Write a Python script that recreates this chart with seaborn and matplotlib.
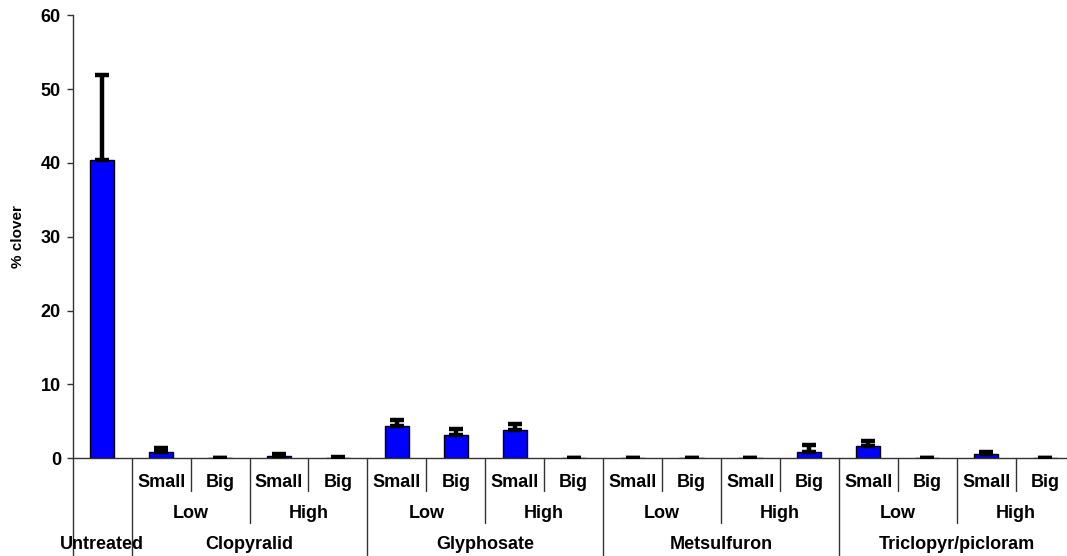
import matplotlib
matplotlib.use("Agg")
import matplotlib.pyplot as plt
import seaborn as sns
import pandas as pd
import numpy as np

# Treatments: untreated control, then herbicide x rate x plant size
herbicides = ["Clopyralid", "Glyphosate", "Metsulfuron", "Triclopyr/picloram"]
rates = ["Low", "High"]
sizes = ["Small", "Big"]

# Mean % clover and upper standard error, in plotting order
clover_mean = [40.4,
               0.8, 0.0, 0.3, 0.1,
               4.4, 3.1, 3.85, 0.0,
               0.0, 0.0, 0.0, 0.8,
               1.7, 0.0, 0.55, 0.0]
clover_se = [11.5,
             0.65, 0.0, 0.35, 0.1,
             0.8, 0.85, 0.8, 0.0,
             0.0, 0.0, 0.0, 0.95,
             0.6, 0.0, 0.35, 0.0]

yticks = [0, 10, 20, 30, 40, 50, 60]

rows = [("Untreated", "", "")]
for h in herbicides:
    for r in rates:
        for s in sizes:
            rows.append((h, r, s))
df = pd.DataFrame(rows, columns=["herbicide", "rate", "size"])
df["treatment"] = [" ".join(p for p in row if p) for row in rows]
df["clover"] = clover_mean
df["se"] = clover_se

sns.set_theme(style="white")
plt.rcParams["font.family"] = ["Liberation Sans", "DejaVu Sans"]
plt.rcParams["font.weight"] = "bold"
plt.rcParams["text.color"] = "black"
plt.rcParams["ytick.color"] = "black"
plt.rcParams["axes.labelcolor"] = "black"

fig = plt.figure(figsize=(10.67, 5.56), dpi=100)
ax = fig.add_axes([0.0682, 0.1757, 0.9389, 0.7968])

sns.barplot(data=df, x="treatment", y="clover", order=df["treatment"],
            color="#0000FF", edgecolor="black", linewidth=1.0,
            width=0.41, saturation=1, errorbar=None, ax=ax)

xpos = np.arange(len(df))
ax.errorbar(xpos, df["clover"], yerr=[np.zeros(len(df)), df["se"]],
            fmt="none", ecolor="black", elinewidth=3.2, capsize=5,
            capthick=3.2, zorder=3)

ax.set_xlim(-0.5, len(df) - 0.5)
ax.set_ylim(0, 60)
ax.set_yticks(yticks)
ax.set_yticklabels([str(t) for t in yticks], fontsize=13, fontweight="bold")
ax.set_xticks([])
ax.set_xlabel("")
ax.set_ylabel("% clover", fontsize=11, fontweight="bold")
ax.yaxis.set_label_coords(-0.0476, 0.5)
ax.tick_params(axis="y", direction="out", length=4.5, width=1, color="#333333",
               left=True, pad=4)
for side in ["top", "right"]:
    ax.spines[side].set_visible(False)
for side in ["left", "bottom"]:
    ax.spines[side].set_color("#333333")
    ax.spines[side].set_linewidth(1.0)

trans = ax.get_xaxis_transform()
line_kw = dict(color="#333333", lw=1.0, transform=trans, clip_on=False)
text_kw = dict(transform=trans, ha="center", va="center",
               fontsize=13, fontweight="bold", clip_on=False)

y_size, y_rate, y_herb = -0.055, -0.124, -0.195
end_size, end_rate, end_herb = -0.074, -0.146, -0.25

# extend the y axis line down through the category labels
ax.plot([-0.5, -0.5], [0, end_herb], **line_kw)

# category label rows and separators
ax.text(0, y_herb, "Untreated", **text_kw)
ax.plot([0.5, 0.5], [0, end_herb], **line_kw)
for i in range(1, len(df)):
    ax.text(xpos[i], y_size, df["size"][i], **text_kw)
    right = xpos[i] + 0.5
    if i == len(df) - 1:
        continue
    if df["herbicide"][i] != df["herbicide"][i + 1]:
        ax.plot([right, right], [0, end_herb], **line_kw)
    elif df["rate"][i] != df["rate"][i + 1]:
        ax.plot([right, right], [0, end_rate], **line_kw)
    else:
        ax.plot([right, right], [0, end_size], **line_kw)

for (h, r), grp in df.iloc[1:].groupby(["herbicide", "rate"], sort=False):
    ax.text(grp.index.to_numpy().mean(), y_rate, r, **text_kw)
for h, grp in df.iloc[1:].groupby("herbicide", sort=False):
    ax.text(grp.index.to_numpy().mean(), y_herb, h, **text_kw)

fig.savefig("out.png", dpi=100)
